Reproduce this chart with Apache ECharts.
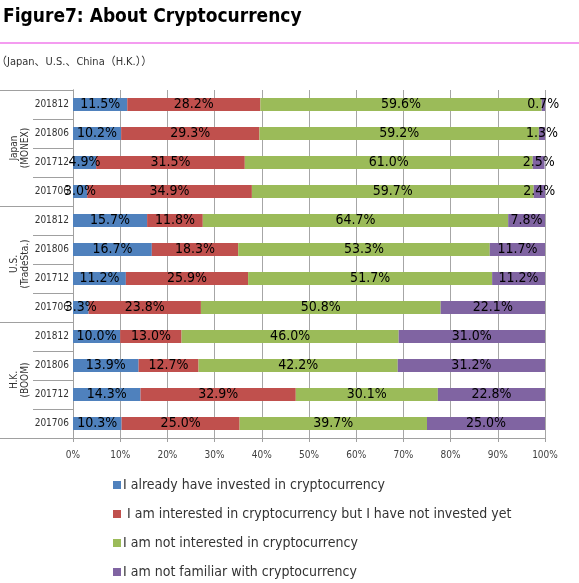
<!DOCTYPE html>
<html><head><meta charset="utf-8">
<script src="https://cdn.jsdelivr.net/npm/echarts@6/dist/echarts.min.js"></script>
<style>html,body{margin:0;padding:0;background:#fff}#c{width:579px;height:583px}</style>
</head><body><div id="c"></div>
<script>
var categories = ['201812','201806','201712','201706','201812','201806','201712','201706','201812','201806','201712','201706'];
var groups = ['Japan\n(MONEX)','U.S.\n(TradeSta.)','H.K.\n(BOOM)'];
var seriesNames = [
  'I already have invested in cryptocurrency',
  'I am interested in cryptocurrency but I have not invested yet',
  'I am not interested in cryptocurrency',
  'I am not familiar with cryptocurrency'
];
var invested      = [11.5,10.2,4.9,3.0, 15.7,16.7,11.2,3.3, 10.0,13.9,14.3,10.3];
var interested    = [28.2,29.3,31.5,34.9, 11.8,18.3,25.9,23.8, 13.0,12.7,32.9,25.0];
var notInterested = [59.6,59.2,61.0,59.7, 64.7,53.3,51.7,50.8, 46.0,42.2,30.1,39.7];
var notFamiliar   = [0.7,1.3,2.5,2.4, 7.8,11.7,11.2,22.1, 31.0,31.2,22.8,25.0];
var xTicks = [0,10,20,30,40,50,60,70,80,90,100];

var colors = ['#4f81bd','#c0504d','#9bbb59','#8064a2'];
var FONT = '"DejaVu Sans Condensed","Noto Sans CJK JP",sans-serif';
var values = [invested, interested, notInterested, notFamiliar];

var chart = echarts.init(document.getElementById('c'), null, {renderer:'canvas'});
var series = values.map(function(v,i){
  return {
    name: seriesNames[i], type:'bar', stack:'all', data:v, barWidth:13,
    yAxisIndex:0,
    itemStyle:{color:colors[i]},
    label:{show:true, position:'inside', color:'#000', fontSize:14, fontFamily:FONT,
      formatter:function(p){return p.value.toFixed(1)+'%';}}
  };
});
chart.setOption({
  animation:false,
  textStyle:{fontFamily:FONT},
  title:[{text:'Figure7: About Cryptocurrency', left:3, top:8, padding:0,
    textStyle:{fontSize:19, fontWeight:'bold', color:'#000', fontFamily:FONT}},
    {text:'（Japan、U.S.、China（H.K.））', left:-4, top:57, padding:0,
    textStyle:{fontSize:11, fontWeight:'normal', color:'#333', fontFamily:FONT}}],
  graphic:[{type:'line', shape:{x1:0,y1:43,x2:579,y2:43}, style:{stroke:'#f49cf0', lineWidth:2}}],
  legend:{orient:'vertical', left:113, top:478, height:200, padding:0, itemWidth:8, itemHeight:8, itemGap:15,
    icon:'rect', data:seriesNames,
    formatter:function(n){return n===seriesNames[1]?' '+n:n;},
    textStyle:{fontSize:14, lineHeight:14, color:'#333', fontFamily:FONT, padding:[0,0,0,-3]}},
  grid:{left:73, right:34, top:90, bottom:145, containLabel:false},
  xAxis:{type:'value', min:0, max:100, interval:10,
    axisLine:{show:true, lineStyle:{color:'#a0a0a0'}},
    axisTick:{show:true, length:4, lineStyle:{color:'#a0a0a0'}},
    splitLine:{show:true, lineStyle:{color:'#a6a6a6'}},
    axisLabel:{formatter:function(v){return xTicks.indexOf(v)>=0? v+'%':'';}, fontSize:10, color:'#404040', margin:12}},
  yAxis:[{type:'category', data:categories, inverse:true, position:'left',
    axisLine:{show:true, lineStyle:{color:'#a0a0a0'}},
    axisTick:{show:true, length:40, interval:0, lineStyle:{color:'#a0a0a0'}},
    axisLabel:{fontSize:10, color:'#333', margin:4}},
   {type:'category', data:groups, inverse:true, position:'left', offset:0,
    axisLine:{show:true, lineStyle:{color:'#a0a0a0'}},
    axisTick:{show:true, length:73, interval:0, lineStyle:{color:'#a0a0a0'}},
    axisLabel:{fontSize:10, color:'#333', rotate:90, margin:42, lineHeight:11}}],
  series:series
});
</script></body></html>
